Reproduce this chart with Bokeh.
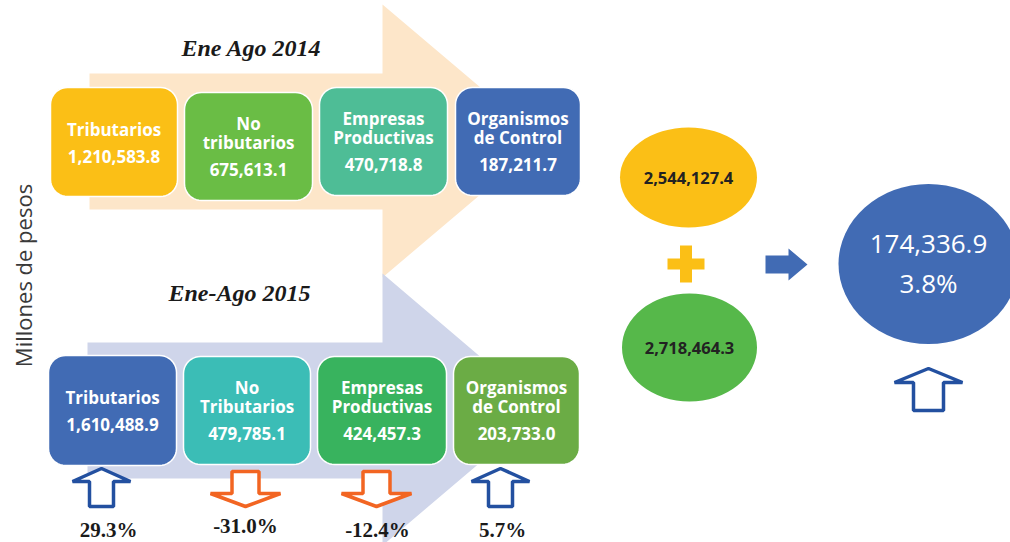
import math
from bokeh.plotting import figure
from bokeh.models import Range1d
from bokeh.core.properties import value
from bokeh.embed import file_html
from bokeh.resources import INLINE

# ---------------- data ----------------
period_titles = ["Ene Ago 2014", "Ene-Ago 2015"]
labels_2014 = [["Tributarios"], ["No", "tributarios"], ["Empresas", "Productivas"], ["Organismos", "de Control"]]
labels_2015 = [["Tributarios"], ["No", "Tributarios"], ["Empresas", "Productivas"], ["Organismos", "de Control"]]
values_2014 = [1210583.8, 675613.1, 470718.8, 187211.7]
values_2015 = [1610488.9, 479785.1, 424457.3, 203733.0]
change_pct = [29.3, -31.0, -12.4, 5.7]
totals = [2544127.4, 2718464.3]
total_diff = 174336.9
total_pct = 3.8
y_label = "Millones de pesos"

# ---------------- layout / styles ----------------
colors_2014 = ["#FBBF16", "#6ABD45", "#4EBD96", "#416BB4"]
colors_2015 = ["#416BB4", "#3BBDB6", "#38B35E", "#6BAC45"]
boxes_2014 = [(50, 177, 87, 196), (184, 312, 92, 200), (319, 447, 87, 195), (455, 580, 87, 195)]
boxes_2015 = [(48, 176, 355, 465), (183, 310, 356, 464), (317, 446, 356, 464), (453, 579, 356, 464)]
arrow_x = [101, 245, 376, 500]
pct_x = [108, 245, 377, 502]
pct_y = [529, 525, 529, 529]

p = figure(width=1010, height=542, output_backend="svg", toolbar_location=None,
           x_range=Range1d(0, 1010), y_range=Range1d(542, 0),
           min_border=0, outline_line_color=None)
p.axis.visible = False
p.grid.visible = False
p.background_fill_color = "white"
p.border_fill_color = "white"


def big_arrow(left, top, bottom, head_x, head_top, head_bottom, tip_x):
    mid = (head_top + head_bottom) / 2
    return ([left, head_x, head_x, tip_x, head_x, head_x, left],
            [top, top, head_top, mid, head_bottom, bottom, bottom])


def rounded(l, r, t, b, rad=17, n=10):
    xs, ys = [], []
    corners = [(r - rad, t + rad, -90, 0), (r - rad, b - rad, 0, 90),
               (l + rad, b - rad, 90, 180), (l + rad, t + rad, 180, 270)]
    for cx, cy, a0, a1 in corners:
        for i in range(n + 1):
            a = math.radians(a0 + (a1 - a0) * i / n)
            xs.append(cx + rad * math.cos(a))
            ys.append(cy + rad * math.sin(a))
    return xs, ys


def fmt(v):
    return f"{v:,.1f}"


# background arrows
ax, ay = big_arrow(89, 73, 209, 382, 4, 277, 543)
p.patch(ax, ay, fill_color="#FDE6C9", line_color=None)
ax, ay = big_arrow(87, 342, 478, 382, 273, 545, 542)
p.patch(ax, ay, fill_color="#CFD5EA", line_color=None)

# titles
p.text(x=[251, 239], y=[47, 292], text=period_titles,
       text_font=value("Liberation Serif"), text_font_style="bold italic",
       text_font_size="24px", text_color="#1a1a1a",
       text_align="center", text_baseline="middle")

# boxes
box_font = dict(text_font=value("Open Sans"), text_font_style="bold", text_color="white",
                text_align="center", text_baseline="middle")
for boxes, cols, labs, vals in [(boxes_2014, colors_2014, labels_2014, values_2014),
                                (boxes_2015, colors_2015, labels_2015, values_2015)]:
    for (l, r, t, b), c, lab, v in zip(boxes, cols, labs, vals):
        xs, ys = rounded(l, r, t, b)
        p.patch(xs, ys, fill_color=c, line_color="white", line_width=1.5)
        cx, cy = (l + r) / 2, (t + b) / 2
        if len(lab) == 1:
            ty = [cy - 13, cy + 14]
        else:
            ty = [cy - 23, cy - 4, cy + 23]
        p.text(x=[cx] * len(ty), y=ty, text=lab + [fmt(v)], text_font_size="17px", **box_font)

# change arrows
for x0, ch in zip(arrow_x, change_pct):
    if ch >= 0:
        xs = [x0, x0 + 29, x0 + 12, x0 + 12, x0 - 12, x0 - 12, x0 - 29]
        ys = [468, 481, 481, 506, 506, 481, 481]
        col = "#2350A0"
    else:
        xs = [x0 - 13.5, x0 + 13.5, x0 + 13.5, x0 + 35, x0, x0 - 35, x0 - 13.5]
        ys = [471, 471, 493, 493, 506, 493, 493]
        col = "#F26522"
    p.patch(xs, ys, fill_color="white", line_color=col, line_width=3.5)

p.text(x=pct_x, y=pct_y, text=[f"{v:.1f}%" for v in change_pct],
       text_font=value("Liberation Serif"), text_font_style="bold",
       text_font_size="21px", text_color="#1a1a1a",
       text_align="center", text_baseline="middle")

# y label
p.text(x=[22], y=[275], text=[y_label], angle=math.pi / 2,
       text_font=value("Open Sans"), text_font_size="22px", text_color="#3a3a3a",
       text_align="center", text_baseline="middle")

# totals ellipses
p.ellipse(x=[688, 689], y=[177, 347], width=[137, 135], height=[100, 108],
          fill_color=["#FBBF16", "#56B84A"], line_color=None)
p.text(x=[688, 689], y=[177, 347], text=[fmt(v) for v in totals],
       text_font=value("Open Sans"), text_font_style="bold", text_font_size="16.5px",
       text_color="#222222", text_align="center", text_baseline="middle")

# plus sign
p.quad(left=[667, 679.5], right=[704, 691.5], top=[258, 245], bottom=[269, 282],
       fill_color="#FBBF16", line_color=None)

# right arrow
p.patch([765, 788, 788, 807, 788, 788, 765], [255, 255, 248, 264, 280, 273, 273],
        fill_color="#416BB4", line_color=None)

# big result ellipse
p.ellipse(x=[928], y=[263.5], width=[180], height=[160], fill_color="#416BB4", line_color=None)
p.text(x=[928, 928], y=[243, 282], text=[fmt(total_diff), f"{total_pct:.1f}%"],
       text_font=value("Open Sans"), text_font_size="26px", text_color="white",
       text_align="center", text_baseline="middle")

# big up arrow
p.patch([928, 962, 943, 943, 913, 913, 894], [368, 382, 382, 410, 410, 382, 382],
        fill_color="white", line_color="#2350A0", line_width=3.5)

open("out.html", "w").write(file_html(p, INLINE))
